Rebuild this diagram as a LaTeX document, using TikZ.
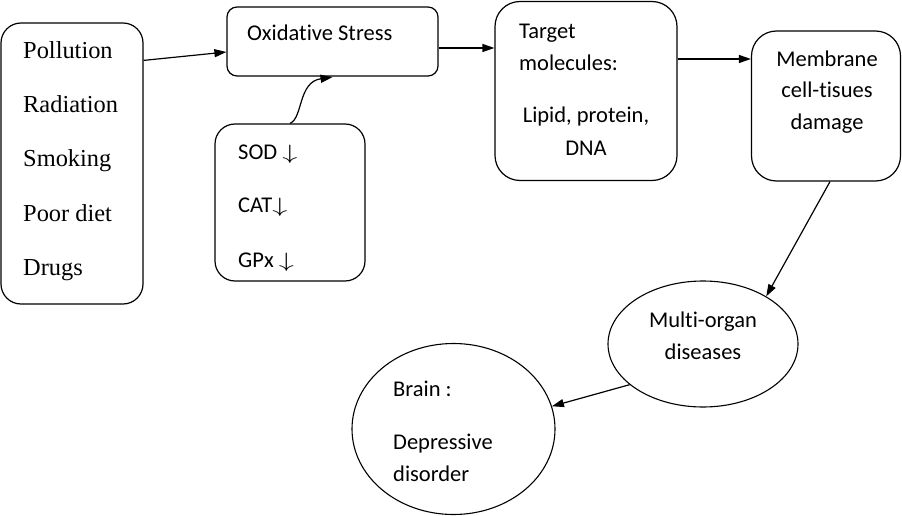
\documentclass[tikz,border=0pt]{standalone}
\usepackage{graphicx}
\usepackage{fontspec}
\setmainfont[Ligatures={CommonOff,ContextualOff,RequiredOff},Contextuals=AlternateOff]{Carlito}
\newfontfamily\seriffont{Liberation Serif}
\usetikzlibrary{arrows.meta,calc,shapes.geometric}
\tikzset{
  box/.style={draw, line width=1.2pt, rectangle, inner sep=0pt},
  oval/.style={draw, line width=1.1pt, ellipse, inner sep=0pt},
  lbl/.style={anchor=base west, inner sep=0pt, font=\fontsize{22.5}{26}\selectfont},
  clbl/.style={anchor=base, inner sep=0pt, font=\fontsize{22.5}{26}\selectfont},
  slbl/.style={anchor=base west, inner sep=0pt, font=\seriffont\fontsize{24.4}{28}\selectfont},
  arr/.style={line width=1.2pt, -{Triangle[length=12pt,width=8pt]}},
}
\newcommand{\dn}{{\fontsize{20}{22}\selectfont\scalebox{1.45}[1]{$\downarrow$}}}
\newcommand{\nl}{\kern0pt}
\begin{document}
\begin{tikzpicture}[x=1pt,y=-1pt]
\useasboundingbox (0,0) rectangle (902,516);
% shapes
\node[box, rounded corners=20pt, minimum width=142pt, minimum height=281pt] (left) at (72,163.5) {};
\node[box, rounded corners=10pt, minimum width=211pt, minimum height=69pt] (ox) at (332.5,41.5) {};
\node[box, rounded corners=20pt, minimum width=150pt, minimum height=157pt] (sod) at (290,202.5) {};
\node[box, rounded corners=25pt, minimum width=182pt, minimum height=179pt] (tgt) at (586,91) {};
\node[box, rounded corners=25pt, minimum width=149pt, minimum height=150pt] (mem) at (826,106) {};
\node[oval, minimum width=190pt, minimum height=126pt] (multi) at (703,344) {};
\node[oval, minimum width=203pt, minimum height=171pt] (brain) at (453.5,429) {};
% texts
\node[slbl] (t1) at (23,59) {Pollution};
\node[slbl] (t2) at (23,113) {Radiation};
\node[slbl] (t3) at (23,167) {Smoking};
\node[slbl] (t4) at (23,221) {Poor diet};
\node[slbl] (t5) at (23,275) {Drugs};
\node[lbl] (oxt) at (247,41) {Oxidat\nl ive Stress};
\node[lbl] (s1) at (238,160) {SOD \dn};
\node[lbl] (s2) at (238,212) {CAT\dn};
\node[lbl] (s3) at (238,267) {GPx \dn};
\node[lbl] (g1) at (519,39) {Target};
\node[lbl] (g2) at (519,71) {molecules:};
\node[clbl] (g3) at (586,123) {Lipid, protein,};
\node[clbl] (g4) at (586,156) {DNA};
\node[clbl] (m1) at (827,67) {Membrane};
\node[clbl] (m2) at (827,98) {cell-t\nl isues};
\node[clbl] (m3) at (827,130) {damage};
\node[clbl] (u1) at (703,327) {Mult\nl i-organ};
\node[clbl] (u2) at (703,359) {diseases};
\node[lbl] (b1) at (393,396) {Brain :};
\node[lbl] (b2) at (393,449) {Depressive};
\node[lbl] (b3) at (393,481) {disorder};
% connectors
\draw[arr] ($(left.north east)+(0,38)$) -- ($(ox.west)+(0,10.5)$);
\draw[arr] (sod.north) .. controls (303,118) and (298,82) .. ($(ox.south)+(0,0.5)$);
\draw[arr] ($(ox.east)+(0,6.5)$) -- ($(tgt.west)+(0,-43)$);
\draw[arr] ($(tgt.east)+(0,-32)$) -- ($(mem.west)+(0,-47)$);
\draw[arr] ($(mem.south)+(4,0)$) -- (multi.37);
\draw[arr] (multi.209) -- (brain.13);
\end{tikzpicture}
\end{document}
